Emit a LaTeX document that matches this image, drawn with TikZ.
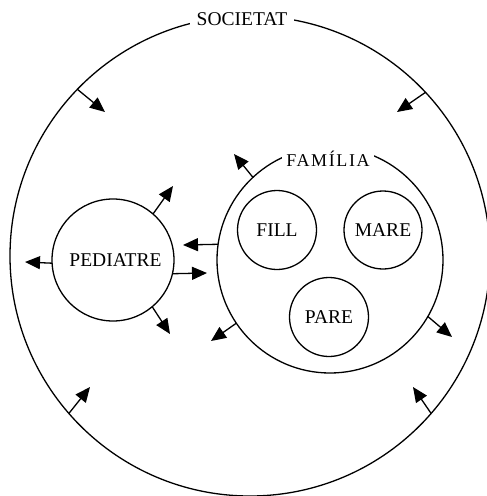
\documentclass[tikz,border=0pt]{standalone}
\usepackage{fontspec}
\setmainfont{Liberation Serif}
\newfontfamily\spacedfont[LetterSpace=9]{Liberation Serif}
\usetikzlibrary{arrows.meta}
\begin{document}
\begin{tikzpicture}[x=1pt,y=-1pt,
  every node/.style={font=\fontsize{19.5}{23}\selectfont},
  ring/.style={circle, draw, line width=1.3pt, outer sep=0pt, inner sep=0pt},
  lbl/.style={fill=white, inner sep=0pt, minimum height=20pt},
  arr/.style={line width=1.3pt, -{Triangle[length=15pt,width=13pt]}}]
\clip (0,0) rectangle (487,496);
% society
\node[ring, minimum size=480pt] (soc) at (250,256) {};
\node[lbl, minimum width=104pt] (soclbl) at (242,19.5) {SOCIETAT};
% pediatre
\node[ring, minimum size=122pt] (ped) at (113,260) {\hspace*{5pt}PEDIATRE};
% familia
\node[ring, minimum size=226pt] (fam) at (330,260) {};
\node[lbl, minimum height=26pt, minimum width=92pt, font=\spacedfont\fontsize{18}{21}\selectfont] (famlbl) at (328,159) {FAMÍLIA};
\node[ring, minimum size=79pt] (fill) at (277,230) {FILL};
\node[ring, minimum size=78pt] (mare) at (383,230) {MARE};
\node[ring, minimum size=79pt] (pare) at (329,317) {PARE};
% tips
\coordinate (t1) at (25,262);
\coordinate (t2) at (173,186);
\coordinate (t3) at (207,273);
\coordinate (t4) at (170,334);
\coordinate (t5) at (183,245);
\coordinate (t6) at (234,154);
\coordinate (t7) at (211,341);
\coordinate (t8) at (452,337);
\coordinate (t9) at (105,112);
\coordinate (t10) at (397,112);
\coordinate (t11) at (90,387);
\coordinate (t12) at (413,387);
% pediatre arrows
\draw[arr] (ped.183) -- (t1);
\draw[arr] (ped.49) -- (t2);
\draw[arr] (ped.-13) -- (t3);
\draw[arr] (ped.-50) -- (t4);
% familia arrows
\draw[arr] (fam.172.4) -- (t5);
\draw[arr] (fam.133) -- (t6);
\draw[arr] (fam.214) -- (t7);
\draw[arr] (fam.-30.4) -- (t8);
% society arrows
\draw[arr] (soc.136.2) -- (t9);
\draw[arr] (soc.43.5) -- (t10);
\draw[arr] (soc.221.1) -- (t11);
\draw[arr] (soc.319.4) -- (t12);
\end{tikzpicture}
\end{document}
